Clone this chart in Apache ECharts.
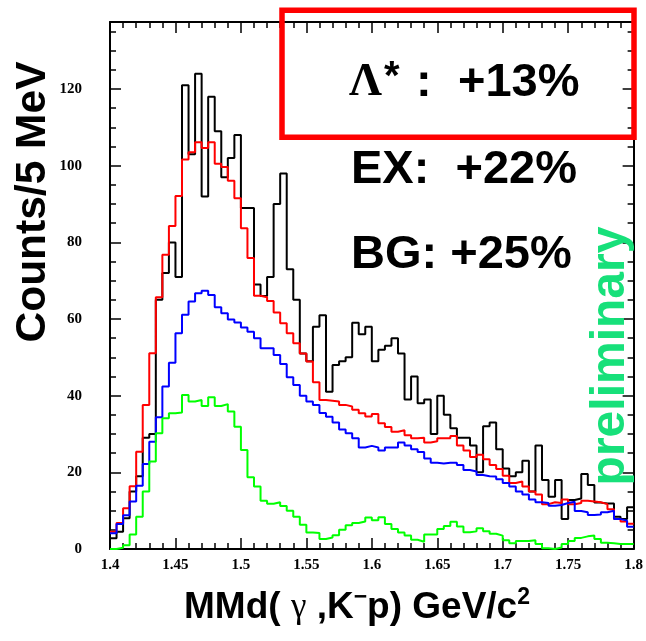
<!DOCTYPE html>
<html><head><meta charset="utf-8">
<script src="https://cdn.jsdelivr.net/npm/echarts@6/dist/echarts.min.js"></script>
<style>html,body{margin:0;padding:0;background:#fff}#c{width:646px;height:641px}</style>
</head><body><div id="c"></div>
<script>
// Histogram binning (GeV/c^2)
const binLow = 1.4;
const binWidth = 0.005;
const xMin = 1.4, xMax = 1.8, yMin = 0, yMax = 137.5;
const xTickStep = 0.05, yTickStep = 20;

// Black: measured counts
const dataCounts = [2.8,4.5,8,15,19,29,30,65,72,80,
  71,121,103,124,92,118,109,97,102,108,
  89,89,69,66,71,90,98,73,65,51,
  49,58,61,41,48,49,50,59,56,58,
  49,52,53,55,51,39,45,38,39,30,
  40,35,31.5,29,29,27,20,32,33,26,
  21,19,20,23,15,27,18,13.6,18,7.8,
  12.8,13.2,19.6,16.7,12.1,11.9,11.9,8.4,7.8,10.9];
// Red: total
const totalFit = [4.5,6.8,10.6,16.4,25.4,37.6,51.1,65.7,76.8,84.3,
  92.1,101.6,103.5,106.1,104.6,106.1,100.5,99.7,96.1,91.5,
  83.7,75.9,66.1,65.7,64.7,61.7,58.9,56.3,53.7,51.0,
  48.9,43.5,38.9,38.7,38.5,37.6,37.2,36.3,35.4,34.6,
  35.2,32.8,31.8,30.6,31.0,29.7,28.9,29.0,27.8,28.1,
  28.9,28.9,29.5,27.0,25.7,24.0,24.6,23.4,21.9,20.9,
  19.1,17.2,17.6,16.3,15.0,14.2,11.7,12.2,12.0,12.9,
  11.7,12.0,12.6,12.4,12.2,11.7,10.4,7.8,7.2,6.6];
// Blue
const blueHist = [4.1,6.5,8.8,12.4,16.5,22.2,28,34.4,42.4,48.6,
  56.3,61.1,64.6,66.7,67.4,66.3,63.1,61.5,59.9,59.1,
  57.8,56.7,55.0,52.4,52.4,50.6,48.3,44.8,42.8,40.0,
  38.5,37.6,35.5,34.5,33.0,31.2,30.2,28.9,26.5,26.9,
  26.5,25.7,26.5,26.5,27.8,27.0,26.0,25.3,23.6,22.5,
  22.3,22.5,22.5,21.9,20.6,20.2,19.3,19.0,18.9,18.2,
  17.2,16.3,15.0,14.2,12.9,12.2,12.0,11.3,11.5,12.0,
  12.3,9.9,9.6,8.9,9.0,9.6,10.0,7.8,7.4,5.8];
// Green: Lambda*
const greenHist = [0,0.3,1.0,3.8,8.4,15.0,22.8,30.2,34.1,35.4,
  35.6,40.2,38.5,38.9,37.3,39.6,37.3,37.8,35.9,31.9,
  25.8,18.7,16.3,12.6,11.8,12.2,11.2,10.0,8.4,6.3,
  4.3,4.2,2.6,3.0,3.6,5.0,6.2,6.8,7.2,8.2,
  7.5,8.3,6.5,5.2,4.3,3.5,2.4,1.9,3.8,3.8,
  5.2,6.0,7.1,5.9,4.4,4.6,5.4,4.6,4.0,3.5,
  2.3,1.5,2.1,2.1,2.3,1.3,0.2,0,0.4,1.3,
  2.1,2.9,3.3,3.5,2.6,1.6,1.5,1.3,1.3,1.3];

function toSteps(vals) {
  const pts = vals.map((v, i) => [binLow + i * binWidth, v]);
  pts.push([binLow + vals.length * binWidth, vals[vals.length - 1]]);
  return pts;
}

const chart = echarts.init(document.getElementById('c'), null, {renderer: 'canvas'});
const tickFont = {fontFamily: 'Liberation Serif', fontWeight: 'bold', fontSize: 15, color: '#000'};
const lineStyle = {color: '#000', width: 2};

function xAx(pos, labels) {
  return {
    type: 'value', position: pos, min: xMin, max: xMax, interval: xTickStep,
    axisLine: {show: true, onZero: false, lineStyle},
    axisTick: {show: true, inside: true, length: 11, lineStyle: {color: '#000', width: 1.5}},
    minorTick: {show: true, splitNumber: 5, length: 6, lineStyle: {color: '#000', width: 1.5}},
    axisLabel: Object.assign({show: labels, margin: 9}, tickFont),
    splitLine: {show: false}, minorSplitLine: {show: false}
  };
}
function yAx(pos, labels) {
  return {
    type: 'value', position: pos, min: yMin, max: yMax, interval: yTickStep,
    axisLine: {show: true, onZero: false, lineStyle},
    axisTick: {show: true, inside: true, length: 11, lineStyle: {color: '#000', width: 1.5}},
    minorTick: {show: true, splitNumber: 4, length: 6, lineStyle: {color: '#000', width: 1.5}},
    axisLabel: Object.assign({show: labels, margin: 28, showMaxLabel: false}, tickFont),
    splitLine: {show: false}, minorSplitLine: {show: false}
  };
}

function histSeries(name, vals, color) {
  return {
    name, type: 'line', step: 'end', data: toSteps(vals), xAxisIndex: 0, yAxisIndex: 0,
    symbol: 'none', lineStyle: {color, width: 2}, animation: false, z: 3
  };
}

chart.setOption({
  animation: false,
  backgroundColor: '#fff',
  grid: {left: 110, right: 8, top: 22, bottom: 92, containLabel: false},
  xAxis: [xAx('bottom', true), xAx('top', false)],
  yAxis: [yAx('left', true), yAx('right', false)],
  series: [
    histSeries('Data', dataCounts, '#000000'),
    histSeries('Total', totalFit, '#ff0000'),
    histSeries('BG', blueHist, '#0000ff'),
    histSeries('Lambda*', greenHist, '#00ff00')
  ],
  graphic: [
    {type: 'rect', z: 10, shape: {x: 282, y: 10.3, width: 352, height: 127},
     style: {fill: 'none', stroke: '#ff0000', lineWidth: 5.5}},
    {type: 'text', z: 10, x: 349, y: 83,
     style: {text: 'Λ', font: 'bold 46px "Liberation Serif"', fill: '#000', verticalAlign: 'middle', align: 'left'}},
    {type: 'text', z: 10, x: 384, y: 78,
     style: {text: '*', font: 'bold 40px "Liberation Sans"', fill: '#000', verticalAlign: 'middle', align: 'left'}},
    {type: 'text', z: 10, x: 416, y: 83,
     style: {text: ':', font: 'bold 47px "Liberation Sans"', fill: '#000', verticalAlign: 'middle', align: 'left'}},
    {type: 'text', z: 10, x: 458, y: 83,
     style: {text: '+13%', font: 'bold 47px "Liberation Sans"', fill: '#000', verticalAlign: 'middle', align: 'left'}},
    {type: 'text', z: 10, x: 351, y: 170,
     style: {text: 'EX:  +22%', font: 'bold 47px "Liberation Sans"', fill: '#000', verticalAlign: 'middle', align: 'left'}},
    {type: 'text', z: 10, x: 351, y: 255,
     style: {text: 'BG: +25%', font: 'bold 47px "Liberation Sans"', fill: '#000', verticalAlign: 'middle', align: 'left'}},
    {type: 'text', z: 10, x: 611, y: 356, rotation: Math.PI / 2,
     style: {text: 'preliminary', font: 'bold 48px "Liberation Sans"', fill: '#17e07a', verticalAlign: 'middle', align: 'center'}},
    {type: 'text', z: 10, x: 33, y: 202, rotation: Math.PI / 2,
     style: {text: 'Counts/5 MeV', font: 'bold 42.5px "Liberation Sans"', fill: '#000', verticalAlign: 'middle', align: 'center'}},
    {type: 'text', z: 10, x: 357, y: 608,
     style: {
       text: '{a|MMd( }{g|γ}{a| ,K}{s|−}{a|p) GeV/c}{s|2}',
       align: 'center', verticalAlign: 'middle',
       rich: {
         a: {font: 'bold 37px "Liberation Sans"', fill: '#000', lineHeight: 44},
         g: {font: '35px "Liberation Serif"', fill: '#000', lineHeight: 44},
         s: {font: 'bold 23px "Liberation Sans"', fill: '#000', verticalAlign: 'top', lineHeight: 24}
       }
     }}
  ]
});
</script></body></html>
